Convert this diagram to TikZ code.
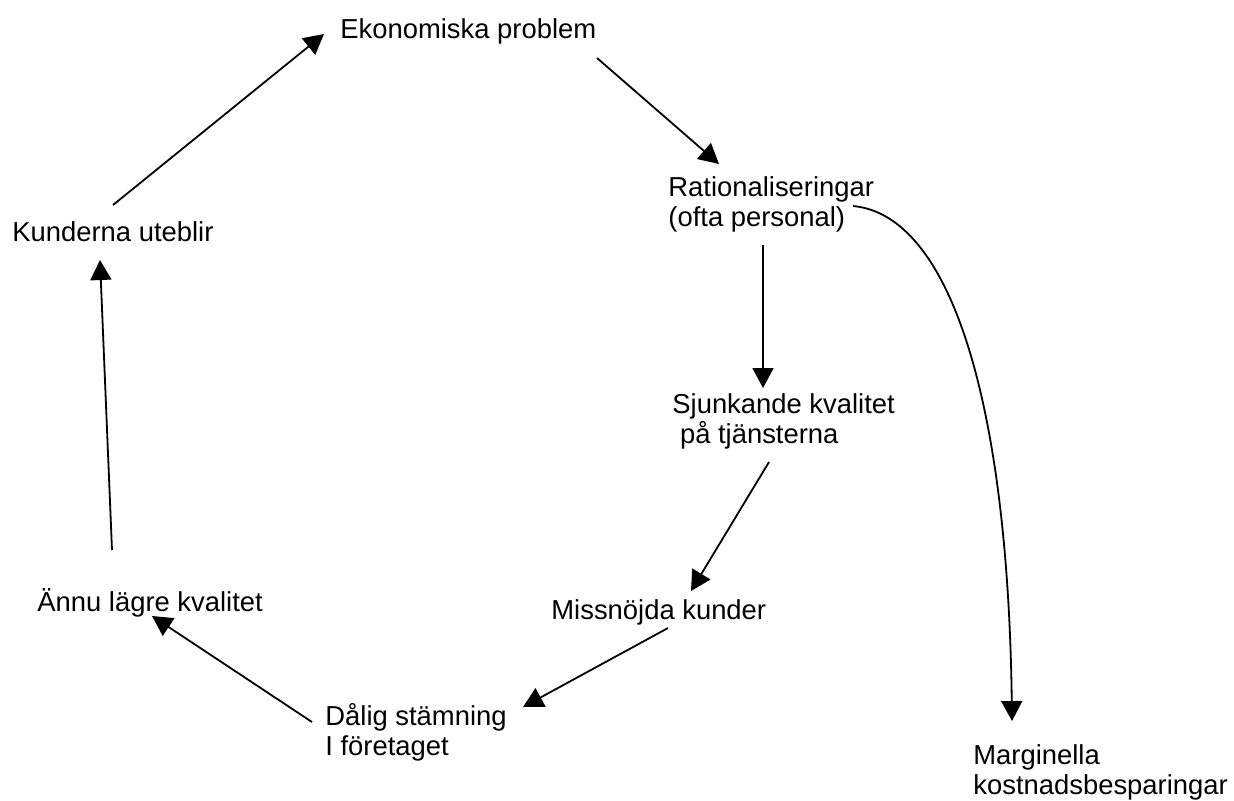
\documentclass[tikz,border=0pt]{standalone}
\usepackage{fontspec}
\setmainfont{Liberation Sans}
\usetikzlibrary{arrows.meta}
\begin{document}
\begin{tikzpicture}[x=0.5pt,y=-0.5pt,
  lbl/.style={anchor=base west,inner sep=0pt,align=left,font=\fontsize{13.7}{15}\selectfont},
  arr/.style={line width=0.9pt,-{Triangle[length=10pt,width=10.5pt]}}]
\useasboundingbox (0,0) rectangle (1234,800);
% statements of the cycle (two-line labels sit on the baseline of their last line)
\node[lbl] (eko)  at (340,38)  {Ekonomiska problem};
\node[lbl] (rat)  at (668,226) {Rationaliseringar\\(ofta personal)};
\node[lbl] (sjk)  at (672,443) {Sjunkande kvalitet\\\ på tjänsterna};
\node[lbl] (miss) at (551,619) {Missnöjda kunder};
\node[lbl] (dal)  at (325,755) {Dålig stämning\\I företaget};
\node[lbl] (annu) at (37,611)  {Ännu lägre kvalitet};
\node[lbl] (kund) at (12,241)  {Kunderna uteblir};
\node[lbl] (marg) at (973,794) {Marginella\\kostnadsbesparingar};
% arrow end points
\coordinate (kund-o) at (113,205);  \coordinate (eko-i)  at (324,34);
\coordinate (eko-o)  at (597,58);   \coordinate (rat-i)  at (719,164);
\coordinate (rat-o)  at (763,245);  \coordinate (sjk-i)  at (763,388);
\coordinate (sjk-o)  at (769,462);  \coordinate (miss-i) at (691,591);
\coordinate (miss-o) at (668,628);  \coordinate (dal-i)  at (523,707);
\coordinate (dal-o)  at (312,722);  \coordinate (annu-i) at (152,616);
\coordinate (annu-o) at (112,550);  \coordinate (kund-i) at (100,260);
\coordinate (rat-s)  at (853,206);  \coordinate (marg-i) at (1012,721);
% connectors
\draw[arr] (kund-o) -- (eko-i);
\draw[arr] (eko-o) -- (rat-i);
\draw[arr] (rat-o) -- (sjk-i);
\draw[arr] (sjk-o) -- (miss-i);
\draw[arr] (miss-o) -- (dal-i);
\draw[arr] (dal-o) -- (annu-i);
\draw[arr] (annu-o) -- (kund-i);
\draw[arr] (rat-s) .. controls (950,215) and (1008,400) .. (marg-i);
\end{tikzpicture}
\end{document}
